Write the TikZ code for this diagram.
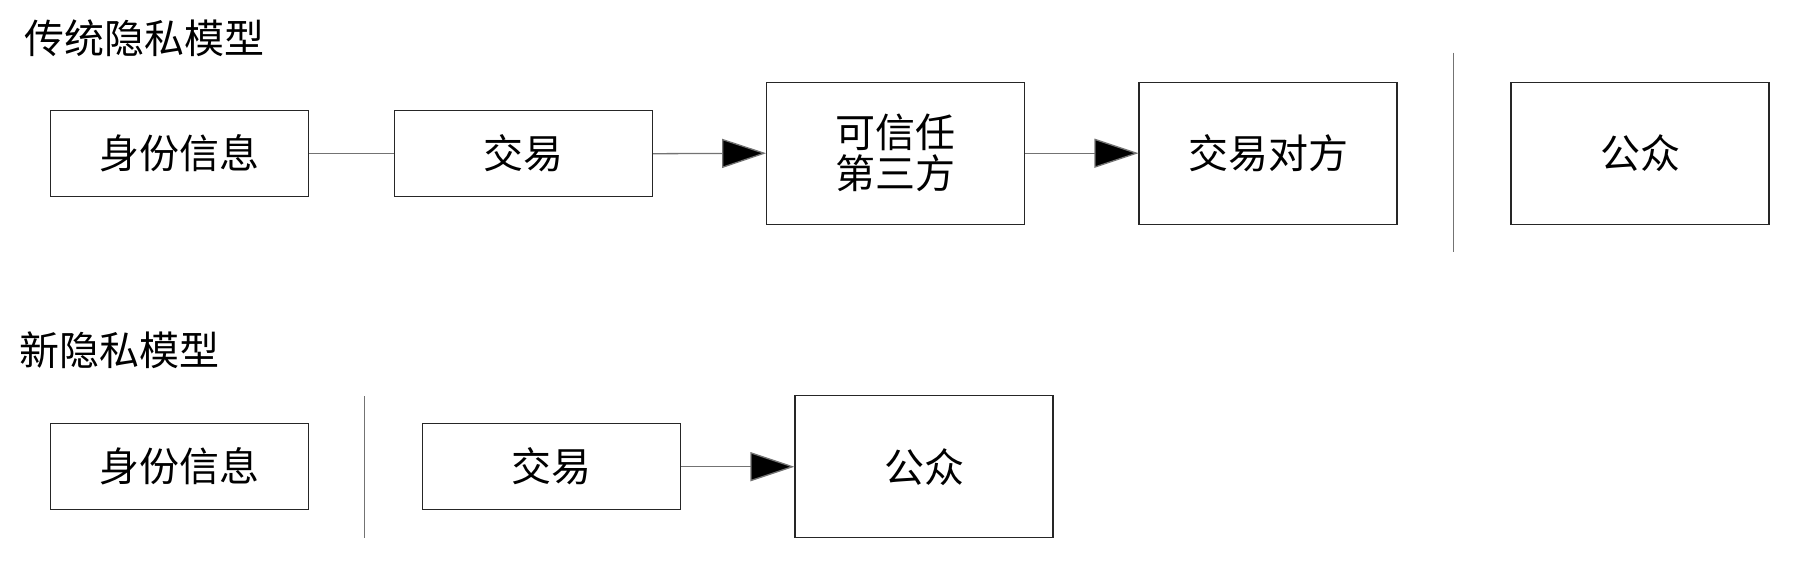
\documentclass[tikz,border=0pt]{standalone}
\usepackage{fontspec}
\setmainfont{Noto Sans CJK SC}
\usetikzlibrary{arrows.meta}
\tikzset{
  box/.style={draw=black!85, line width=0.6pt, inner sep=0pt, minimum width=129pt, align=center,
    font=\fontsize{20}{20.5}\selectfont},
  smallbox/.style={box, minimum height=43pt},
  tallbox/.style={box, minimum height=71pt},
  conn/.style={draw=black!55, line width=0.65pt},
  arr/.style={conn, -{Triangle[length=22pt,width=14.5pt,fill=black]}},
  sep/.style={draw=black!55, line width=0.6pt},
  title/.style={anchor=west, inner sep=0pt, font=\fontsize{20}{24}\selectfont}
}
\begin{document}
\begin{tikzpicture}[x=0.5pt,y=-0.5pt]
\useasboundingbox (0,0) rectangle (1798,564);
% traditional model
\node[title] (t1) at (24,38.5) {传统隐私模型};
\node[smallbox] (b1) at (179.6,153.7) {身份信息};
\node[smallbox] (b2) at (523.5,153.7) {交易};
\node[tallbox]  (b3) at (895.7,153.2) {可信任\\第三方};
\node[tallbox]  (b4) at (1268,153.2) {交易对方};
\node[tallbox]  (b5) at (1640,153.2) {公众};
\coordinate (s1a) at (1453.3,52.7);
\coordinate (s1b) at (1453.3,251.7);
\draw[conn] (b1.east) -- (b2.west);
\draw[arr] (b2.east) -- (b3.west);
\draw[arr] (b3.east) -- (b4.west);
\draw[sep] (s1a) -- (s1b);
% new model
\node[title] (t2) at (19.5,350) {新隐私模型};
\node[smallbox] (b6) at (179.6,466.7) {身份信息};
\node[smallbox] (b7) at (551.8,466.7) {交易};
\node[tallbox]  (b8) at (924,466.7) {公众};
\coordinate (s2a) at (364.8,396);
\coordinate (s2b) at (364.8,538);
\draw[sep] (s2a) -- (s2b);
\draw[arr] (b7.east) -- (b8.west);
\end{tikzpicture}
\end{document}
